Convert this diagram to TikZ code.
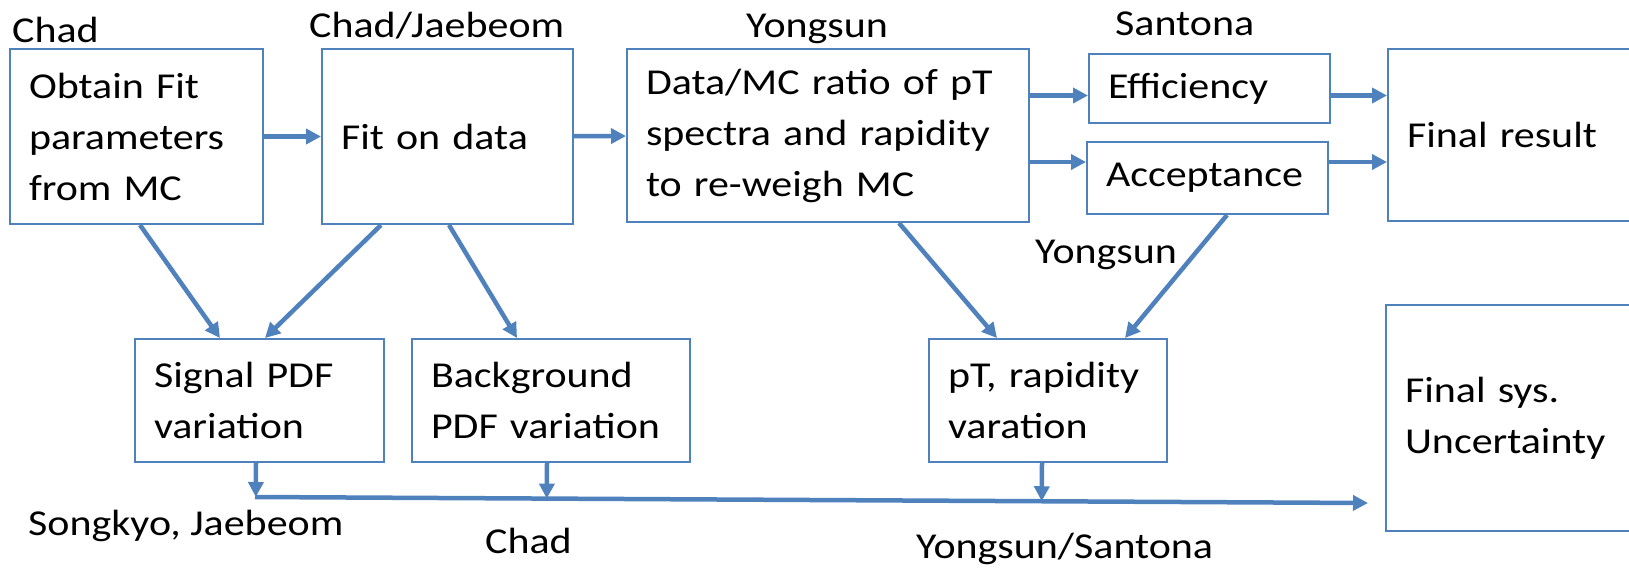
\documentclass[tikz,border=0pt]{standalone}
\usepackage{fontspec}
\setmainfont{Carlito}[FakeStretch=1.15]
\usetikzlibrary{positioning,arrows.meta,calc}
\definecolor{flowblue}{RGB}{79,129,189}

\begin{document}
\begin{tikzpicture}[x=1pt,y=-1pt,>={Triangle[length=15pt,width=15pt]},
	box/.style={draw=flowblue,line width=2pt,anchor=north west,align=left,
		inner xsep=19pt,inner ysep=2pt,font=\fontsize{36.5}{51}\selectfont},
	who/.style={anchor=base west,inner sep=0pt,font=\fontsize{36.5}{51}\selectfont},
	flow/.style={draw=flowblue,line width=4.5pt,->}]
	\useasboundingbox (0,0) rectangle (1629,568);

	% top row
	\node[box,text width=215pt,minimum height=175pt] (obtain) at (9,48) {Obtain Fit\\parameters\\from MC};
	\node[box,text width=213pt,minimum height=175pt] (fit) at (321,48) {Fit on data};
	\node[box,text width=364pt,minimum height=173pt] (ratio) at (626,48) {Data/MC ratio of pT\\spectra and rapidity\\to re-weigh MC};
	\node[box,text width=203pt,minimum height=69pt] (eff) at (1088,53) {Efficiency};
	\node[box,text width=203pt,minimum height=72pt] (acc) at (1086,141) {Acceptance};
	\node[box,text width=224pt,minimum height=172pt] (res) at (1387,48) {Final result};

	% variations
	\node[box,text width=211pt,minimum height=123pt] (sig) at (134,338) {Signal PDF\\variation};
	\node[box,text width=240pt,minimum height=123pt] (bkg) at (411,338) {Background\\PDF variation};
	\node[box,text width=200pt,minimum height=123pt] (ptvar) at (928,338) {pT, rapidity\\varation};
	\node[box,text width=224pt,minimum height=226pt] (sys) at (1385,304) {Final sys.\\Uncertainty};

	% names
	\node[who] (nmChad) at (12,42) {Chad};
	\node[who] (nmChadJae) at (309,37) {Chad/Jaebeom};
	\node[who] (nmYong) at (746,37) {Yongsun};
	\node[who] (nmSant) at (1115,35) {Santona};
	\node[who] (nmYongMid) at (1035,263) {Yongsun};
	\node[who] (nmSongJae) at (28,535) {Songkyo, Jaebeom};
	\node[who] (nmChadLow) at (485,553) {Chad};
	\node[who] (nmYongSant) at (916,558) {Yongsun/Santona};

	% main chain
	\draw[flow] (obtain) -- (fit);
	\draw[flow] (fit) -- (ratio);
	\coordinate (effIn) at ([yshift=-7pt]eff.west);
	\coordinate (accIn) at ([yshift=16pt]acc.west);
	\coordinate (effOut) at ([yshift=-7pt]eff.east);
	\coordinate (accOut) at ([yshift=16pt]acc.east);
	\draw[flow] (ratio.east |- effIn) -- (effIn);
	\draw[flow] (ratio.east |- accIn) -- (accIn);
	\draw[flow] (effOut) -- (res.west |- effOut);
	\draw[flow] (accOut) -- (res.west |- accOut);

	% down to the variations
	\draw[flow] ([xshift=3.5pt]obtain.south) -- ([xshift=-39.5pt]sig.north);
	\draw[flow] ([xshift=-66.5pt]fit.south) -- ([xshift=5.5pt]sig.north);
	\draw[flow] ([xshift=1.5pt]fit.south) -- ([xshift=-34pt]bkg.north);
	\draw[flow] ([xshift=71pt]ratio.south) -- ([xshift=-51pt]ptvar.north);
	\draw[flow] ([xshift=19.5pt]acc.south) -- ([xshift=77pt]ptvar.north);

	% collect into the systematics
	\coordinate (busL) at (255,497);
	\coordinate (busR) at (1368,503);
	\coordinate (sigOut) at ([xshift=-3.5pt]sig.south);
	\coordinate (bkgOut) at ([xshift=-4pt]bkg.south);
	\coordinate (ptOut) at ([xshift=-6pt]ptvar.south);
	\draw[flow] (sigOut) -- ($(busL)!(sigOut)!(busR)$);
	\draw[flow] (bkgOut) -- ($(busL)!(bkgOut)!(busR)$);
	\draw[flow] (ptOut) -- ($(busL)!(ptOut)!(busR)$);
	\draw[flow] (busL) -- (busR);
\end{tikzpicture}
\end{document}
